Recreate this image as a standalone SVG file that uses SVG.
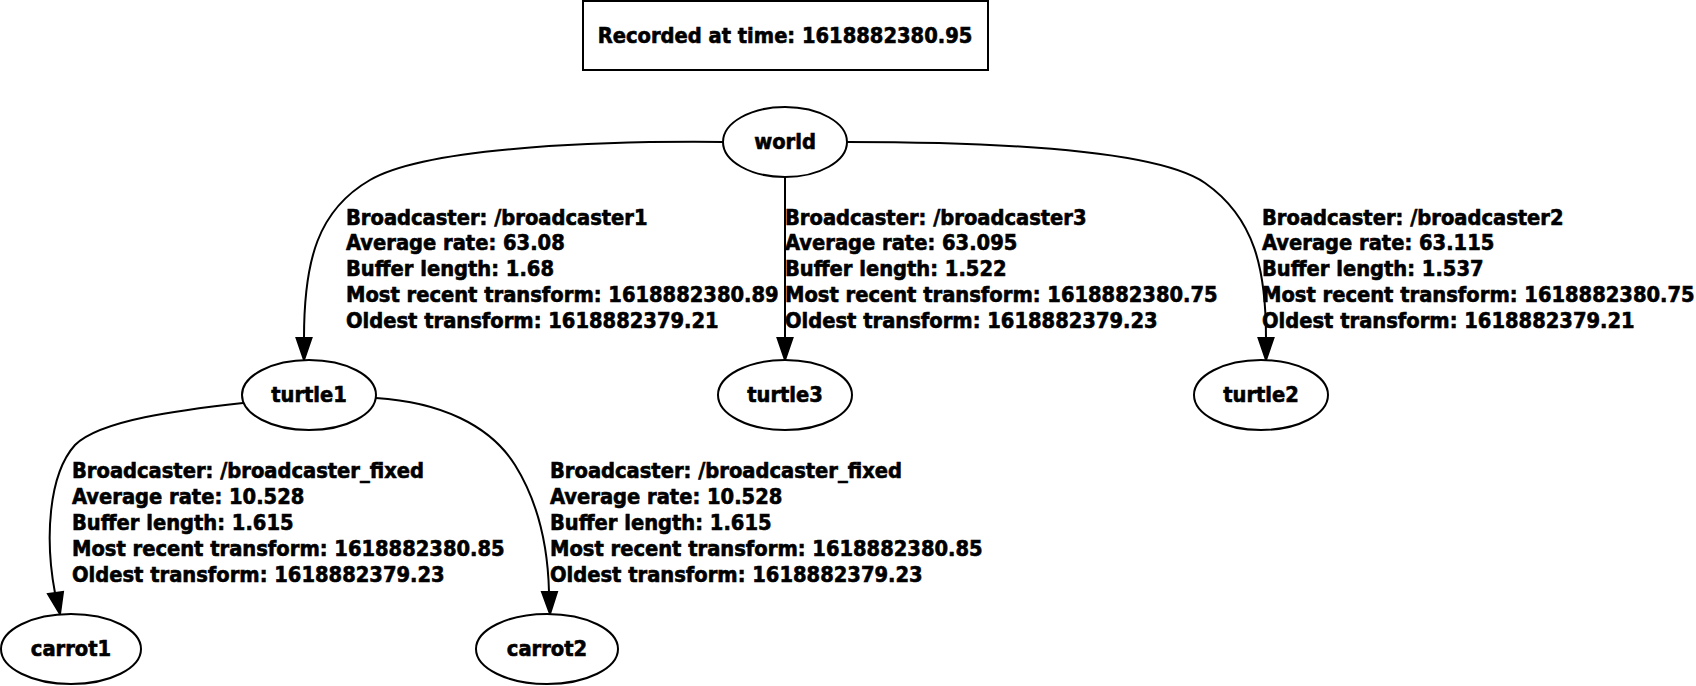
<svg xmlns="http://www.w3.org/2000/svg" width="1696" height="686" viewBox="0 0 1696 686">
  <style>
    text { font-family: "DejaVu Sans Condensed", "DejaVu Sans", sans-serif; font-weight: bold; font-stretch: condensed; font-size: 21.7px; fill: #000; stroke: #000; stroke-width: 0.6; }
    .node ellipse, .title rect { fill: #fff; stroke: #000; stroke-width: 2; }
    .node text, .title text { text-anchor: middle; }
    .edge path { fill: none; stroke: #000; stroke-width: 2; }
    .edge polygon { fill: #000; stroke: #000; stroke-width: 2; }
  </style>
  <rect width="1696" height="686" fill="#fff"/>

  <g id="title" class="title">
    <rect x="583" y="1" width="405" height="69"/>
    <text x="785" y="43">Recorded at time: 1618882380.95</text>
  </g>

  <g id="connectors">
    <!-- world -> turtle1 -->
    <g class="edge">
      <path d="M723,142 C620,141 430,145 370,180 C318,210 304,260 304,338"/>
      <polygon points="296.5,338 311.5,338 304,360"/>
      <text x="346" y="225">Broadcaster: /broadcaster1</text>
      <text x="346" y="250">Average rate: 63.08</text>
      <text x="346" y="276">Buffer length: 1.68</text>
      <text x="346" y="302">Most recent transform: 1618882380.89</text>
      <text x="346" y="328">Oldest transform: 1618882379.21</text>
    </g>
    <!-- world -> turtle3 -->
    <g class="edge">
      <path d="M785,177 L785,338"/>
      <polygon points="777.5,338 792.5,338 785,360"/>
      <text x="785" y="225">Broadcaster: /broadcaster3</text>
      <text x="785" y="250">Average rate: 63.095</text>
      <text x="785" y="276">Buffer length: 1.522</text>
      <text x="785" y="302">Most recent transform: 1618882380.75</text>
      <text x="785" y="328">Oldest transform: 1618882379.23</text>
    </g>
    <!-- world -> turtle2 -->
    <g class="edge">
      <path d="M847,142 C950,142 1150,145 1205,183 C1255,218 1266,270 1266,338"/>
      <polygon points="1258.5,338 1273.5,338 1266,360"/>
      <text x="1262" y="225">Broadcaster: /broadcaster2</text>
      <text x="1262" y="250">Average rate: 63.115</text>
      <text x="1262" y="276">Buffer length: 1.537</text>
      <text x="1262" y="302">Most recent transform: 1618882380.75</text>
      <text x="1262" y="328">Oldest transform: 1618882379.21</text>
    </g>
    <!-- turtle1 -> carrot1 -->
    <g class="edge">
      <path d="M243,403 C180,410 100,420 75,445 C48,475 45,540 55,593"/>
      <polygon points="48,594 63,592 60,614"/>
      <text x="72" y="478">Broadcaster: /broadcaster_fixed</text>
      <text x="72" y="504">Average rate: 10.528</text>
      <text x="72" y="530">Buffer length: 1.615</text>
      <text x="72" y="556">Most recent transform: 1618882380.85</text>
      <text x="72" y="582">Oldest transform: 1618882379.23</text>
    </g>
    <!-- turtle1 -> carrot2 -->
    <g class="edge">
      <path d="M376,398 C440,402 490,425 515,465 C540,505 548,550 549,592"/>
      <polygon points="542,592 557,592 550,614"/>
      <text x="550" y="478">Broadcaster: /broadcaster_fixed</text>
      <text x="550" y="504">Average rate: 10.528</text>
      <text x="550" y="530">Buffer length: 1.615</text>
      <text x="550" y="556">Most recent transform: 1618882380.85</text>
      <text x="550" y="582">Oldest transform: 1618882379.23</text>
    </g>
  </g>

  <g id="world" class="node">
    <ellipse cx="785" cy="142" rx="62" ry="35"/>
    <text x="785" y="149">world</text>
  </g>
  <g id="turtle1" class="node">
    <ellipse cx="309" cy="395" rx="67" ry="35"/>
    <text x="309" y="402">turtle1</text>
  </g>
  <g id="turtle3" class="node">
    <ellipse cx="785" cy="395" rx="67" ry="35"/>
    <text x="785" y="402">turtle3</text>
  </g>
  <g id="turtle2" class="node">
    <ellipse cx="1261" cy="395" rx="67" ry="35"/>
    <text x="1261" y="402">turtle2</text>
  </g>
  <g id="carrot1" class="node">
    <ellipse cx="71" cy="649" rx="70" ry="35"/>
    <text x="71" y="656">carrot1</text>
  </g>
  <g id="carrot2" class="node">
    <ellipse cx="547" cy="649" rx="71" ry="35"/>
    <text x="547" y="656">carrot2</text>
  </g>
</svg>
